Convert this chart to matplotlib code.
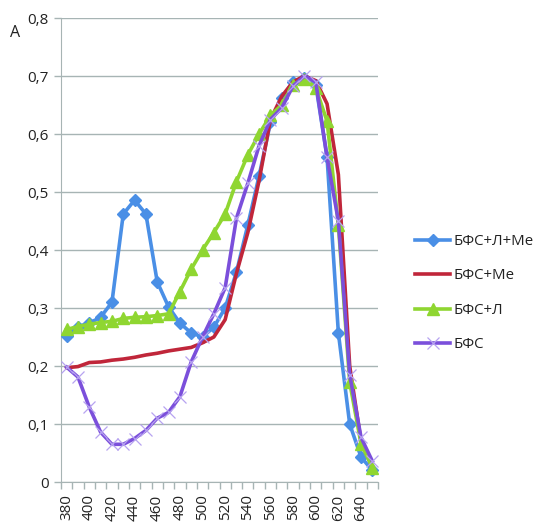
import matplotlib
matplotlib.use("Agg")
import matplotlib.pyplot as plt
import numpy as np

plt.rcParams['font.family'] = ['Open Sans', 'DejaVu Sans']

# wavelengths, nm
wavelengths = [380, 390, 400, 410, 420, 430, 440, 450, 460, 470,
               480, 490, 500, 510, 520, 530, 540, 550, 560, 570,
               580, 590, 600, 610, 620, 630, 640, 650]

bfs_l_me = [0.252, 0.268, 0.274, 0.284, 0.31, 0.462, 0.486, 0.462, 0.345, 0.302,
            0.274, 0.257, 0.25, 0.267, 0.30, 0.362, 0.443, 0.528, 0.62, 0.662,
            0.69, 0.697, 0.685, 0.56, 0.257, 0.10, 0.043, 0.02]

bfs_me = [0.197, 0.199, 0.206, 0.207, 0.21, 0.212, 0.215, 0.219, 0.222, 0.226,
          0.229, 0.232, 0.24, 0.25, 0.28, 0.36, 0.43, 0.52, 0.625, 0.665,
          0.69, 0.70, 0.692, 0.652, 0.53, 0.20, 0.07, 0.025]

bfs_l = [0.263, 0.268, 0.272, 0.275, 0.277, 0.282, 0.284, 0.285, 0.287, 0.29,
         0.328, 0.367, 0.40, 0.43, 0.462, 0.518, 0.564, 0.60, 0.632, 0.65,
         0.685, 0.695, 0.68, 0.622, 0.443, 0.172, 0.066, 0.025]

bfs = [0.198, 0.181, 0.129, 0.086, 0.065, 0.065, 0.075, 0.089, 0.11, 0.12,
       0.147, 0.207, 0.25, 0.29, 0.335, 0.455, 0.515, 0.58, 0.625, 0.645,
       0.683, 0.70, 0.69, 0.56, 0.45, 0.185, 0.077, 0.036]

series_names = ['БФС+Л+Ме', 'БФС+Ме', 'БФС+Л', 'БФС']
y_ticks = [0.0, 0.1, 0.2, 0.3, 0.4, 0.5, 0.6, 0.7, 0.8]
y_label = 'A'

fig = plt.figure(figsize=(5.39, 5.28), dpi=100)
ax = fig.add_axes([61 / 539, 1 - 482 / 528, (378 - 61) / 539, (482 - 18) / 528])

x = np.arange(len(wavelengths))
lw = 2.6
ax.plot(x, bfs_l_me, color='#4a8fe6', lw=lw, marker='D', ms=6.5,
        mec='#4a8fe6', mfc='#4a8fe6', label=series_names[0], zorder=3)
ax.plot(x, bfs_me, color='#c0263a', lw=lw, label=series_names[1], zorder=3)
ax.plot(x, bfs_l, color='#8fd631', lw=lw, marker='^', ms=8,
        mec='#8fd631', mfc='#8fd631', label=series_names[2], zorder=3)
ax.plot(x, bfs, color='#7b4fdb', lw=lw, marker='x', ms=9, mew=0.9,
        mec='#b7a3f0', label=series_names[3], zorder=3)

grid_col = '#a7b4b4'
txt_col = '#222222'
ax.set_xlim(-0.5, len(wavelengths) - 0.5)
ax.set_ylim(0, 0.8)
ax.set_yticks(y_ticks)
ax.set_yticklabels([('0' if v == 0 else f'{v:.1f}'.replace('.', ',')) for v in y_ticks])
ax.yaxis.grid(True, color=grid_col, lw=1.0)
ax.set_axisbelow(True)

ax.set_xticks(x[::2])
ax.set_xticklabels([str(w) for w in wavelengths[::2]], rotation=90)
ax.set_xticks(np.arange(-0.5, len(wavelengths), 1.0), minor=True)
ax.tick_params(axis='x', which='major', length=0, pad=9, labelsize=11)
ax.tick_params(axis='x', which='minor', length=5, color=grid_col, width=1)
ax.tick_params(axis='y', length=5, color=grid_col, width=1, labelsize=11, pad=4)
for lbl in ax.get_xticklabels() + ax.get_yticklabels():
    lbl.set_color(txt_col)

for side in ['top', 'right']:
    ax.spines[side].set_visible(False)
ax.spines['left'].set_color(grid_col)
ax.spines['bottom'].set_color(grid_col)

fig.text(10 / 539, 1 - 33 / 528, y_label, fontsize=11.5, color=txt_col, va='center')

leg = ax.legend(loc='center left', bbox_to_anchor=(409 / 539, 1 - 293 / 528),
                bbox_transform=fig.transFigure,
                frameon=False, fontsize=10.8, handlelength=2.35, labelspacing=1.3,
                handletextpad=0.2, borderaxespad=0)
for t in leg.get_texts():
    t.set_color(txt_col)

fig.savefig('out.png', dpi=100)
